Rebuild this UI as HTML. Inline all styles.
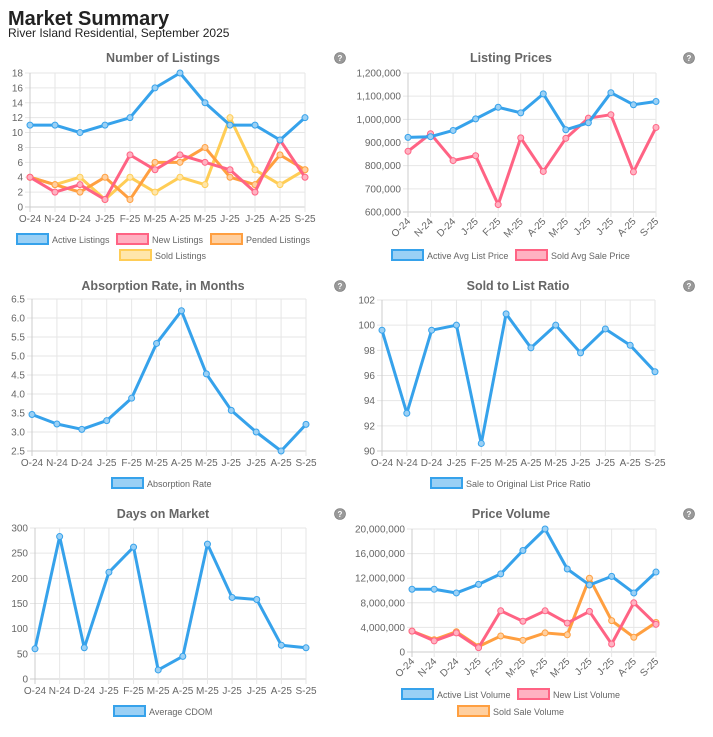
<!DOCTYPE html>
<html><head><meta charset="utf-8"><style>
body{margin:0;background:#fff;font-family:"Liberation Sans",sans-serif;}
svg text{font-family:"Liberation Sans",sans-serif;}
</style></head><body>
<svg id="s" width="713" height="732" xmlns="http://www.w3.org/2000/svg">
<text x="8" y="25" font-size="20" font-weight="bold" fill="#222">Market Summary</text>
<text x="8" y="37" font-size="12" fill="#222">River Island Residential, September 2025</text>
</svg>
<script>
const months=["O-24","N-24","D-24","J-25","F-25","M-25","A-25","M-25","J-25","J-25","A-25","S-25"];
const activeListings=[11,11,10,11,12,16,18,14,11,11,9,12];
const newListings=[4,2,3,1,7,5,7,6,5,2,9,4];
const pendedListings=[4,3,2,4,1,6,6,8,4,3,7,5];
const soldListings=[4,3,4,1,4,2,4,3,12,5,3,5];
const activeAvgList=[922000,925000,952000,1002000,1052000,1028000,1110000,955000,985000,1115000,1063000,1077000];
const soldAvgSale=[862000,938000,822000,843000,632000,920000,775000,918000,1005000,1020000,773000,965000];
const absorption=[3.46,3.21,3.07,3.30,3.89,5.33,6.19,4.53,3.57,3.0,2.5,3.2];
const soldToList=[99.6,93,99.6,100,90.6,100.9,98.2,100,97.8,99.7,98.4,96.3];
const cdom=[60,283,62,212,262,18,45,268,162,158,67,62];
const activeVol=[10200000,10200000,9600000,11000000,12700000,16500000,20000000,13500000,10900000,12300000,9600000,13000000];
const newVol=[3400000,1800000,3100000,700000,6700000,5000000,6700000,4700000,6600000,1300000,8000000,4500000];
const soldVol=[3400000,2000000,3300000,900000,2600000,1900000,3100000,2800000,12000000,5100000,2400000,4800000];
const ticks1=[0,2,4,6,8,10,12,14,16,18];
const ticks2=[600000,700000,800000,900000,1000000,1100000,1200000];
const ticks3=[2.5,3,3.5,4,4.5,5,5.5,6,6.5];
const ticks4=[90,92,94,96,98,100,102];
const ticks5=[0,50,100,150,200,250,300];
const ticks6=[0,4000000,8000000,12000000,16000000,20000000];

const C={blue:["#36a2eb","#9ad0f5"],red:["#ff6384","#ffb1c1"],orange:["#ff9f40","#ffcf9f"],yellow:["#ffcd56","#ffe6aa"]};
const NS="http://www.w3.org/2000/svg";
const svg=document.getElementById('s');
function mk(tag,attrs,parent){const e=document.createElementNS(NS,tag);for(const k in attrs)e.setAttribute(k,attrs[k]);(parent||svg).appendChild(e);return e;}
function fmt(v,dec){if(dec)return v.toFixed(1);return v.toLocaleString('en-US');}

function chart(o){
  const g=mk('g',{});
  
  
  const ymin=o.ticks[0],ymax=o.ticks[o.ticks.length-1];
  const X=i=>o.x0+(o.x1-o.x0)*i/(months.length-1);
  const Y=v=>o.y1-(v-ymin)/(ymax-ymin)*(o.y1-o.y0);
  const t=mk('text',{x:o.tx,y:o.ty,'font-size':12.5,'font-weight':'bold',fill:'#666','text-anchor':'middle'},g);
  t.textContent=o.title;
  
  
  const hc=mk('circle',{cx:o.hx,cy:o.ty-4,r:5.5,fill:'#999',stroke:'#777','stroke-width':0.6},g);
  
  
  const hq=mk('text',{x:o.hx,y:o.ty-1,'font-size':8,'font-weight':'bold',fill:'#fff','text-anchor':'middle'},g);hq.textContent='?';
  o.ticks.forEach(v=>{
    mk('line',{x1:o.x0-5,x2:o.x1,y1:Y(v),y2:Y(v),stroke:v===ymin?'#ccc':'#e6e6e6','stroke-width':1},g);
    const l=mk('text',{x:o.x0-7,y:Y(v)+3.5,'font-size':10,fill:'#666','text-anchor':'end'},g);
    l.textContent=fmt(v,o.dec);
    
    
  });
  months.forEach((m,i)=>{
    mk('line',{x1:X(i),x2:X(i),y1:o.y0,y2:o.y1+5,stroke:i===0?'#ccc':'#e6e6e6','stroke-width':1},g);
    let l;
    if(o.rot){l=mk('text',{x:X(i)+3,y:o.y1+10,'font-size':10,fill:'#666','text-anchor':'end',transform:`rotate(-45 ${X(i)+3} ${o.y1+10})`},g);}
    else l=mk('text',{x:X(i),y:o.y1+15,'font-size':10,fill:'#666','text-anchor':'middle'},g);
    l.textContent=m;
    
    
  });
  o.series.forEach(s=>{
    const [c,f]=C[s.c];
    const p=mk('polyline',{points:s.d.map((v,i)=>X(i)+','+Y(v)).join(' '),fill:'none',stroke:c,'stroke-width':3,'stroke-linejoin':'round'},g);
    
    
    s.d.forEach((v,i)=>{
      const pt=mk('circle',{cx:X(i),cy:Y(v),r:3,fill:f,stroke:c,'stroke-width':1},g);
      
      
    });
  });
  o.legend.forEach(l=>{
    const [c,f]=C[l.c];
    const r=mk('rect',{x:l.x,y:l.y-6,width:31,height:10,fill:f,stroke:c,'stroke-width':2},g);
    
    
    const tx=mk('text',{x:l.x+35,y:l.y+3,'font-size':9,fill:'#666'},g);
    tx.textContent=l.t;
    
    
  });
}
chart({name:'number-of-listings-chart',title:'Number of Listings',tx:163,ty:62,hx:340,x0:30,x1:305,y0:73,y1:207,ticks:ticks1,
 series:[{d:soldListings,c:'yellow'},{d:pendedListings,c:'orange'},{d:newListings,c:'red'},{d:activeListings,c:'blue'}],
 legend:[{x:17,y:240,t:'Active Listings',c:'blue'},{x:117,y:240,t:'New Listings',c:'red'},{x:211,y:240,t:'Pended Listings',c:'orange'},{x:120,y:256,t:'Sold Listings',c:'yellow'}]});
chart({name:'listing-prices-chart',title:'Listing Prices',tx:511,ty:62,hx:689,x0:408,x1:656,y0:73,y1:212,ticks:ticks2,rot:true,
 series:[{d:soldAvgSale,c:'red'},{d:activeAvgList,c:'blue'}],
 legend:[{x:392,y:256,t:'Active Avg List Price',c:'blue'},{x:516,y:256,t:'Sold Avg Sale Price',c:'red'}]});
chart({name:'absorption-rate-chart',title:'Absorption Rate, in Months',tx:163,ty:290,hx:340,x0:32,x1:306,y0:299,y1:451,ticks:ticks3,dec:true,
 series:[{d:absorption,c:'blue'}],legend:[{x:112,y:484,t:'Absorption Rate',c:'blue'}]});
chart({name:'sold-to-list-ratio-chart',title:'Sold to List Ratio',tx:518,ty:290,hx:689,x0:382,x1:655,y0:300,y1:451,ticks:ticks4,
 series:[{d:soldToList,c:'blue'}],legend:[{x:431,y:484,t:'Sale to Original List Price Ratio',c:'blue'}]});
chart({name:'days-on-market-chart',title:'Days on Market',tx:163,ty:518,hx:340,x0:35,x1:306,y0:528,y1:679,ticks:ticks5,
 series:[{d:cdom,c:'blue'}],legend:[{x:114,y:712,t:'Average CDOM',c:'blue'}]});
chart({name:'price-volume-chart',title:'Price Volume',tx:511,ty:518,hx:689,x0:412,x1:656,y0:529,y1:652,ticks:ticks6,rot:true,
 series:[{d:soldVol,c:'orange'},{d:newVol,c:'red'},{d:activeVol,c:'blue'}],
 legend:[{x:402,y:695,t:'Active List Volume',c:'blue'},{x:518,y:695,t:'New List Volume',c:'red'},{x:458,y:712,t:'Sold Sale Volume',c:'orange'}]});
</script>
</body></html>
